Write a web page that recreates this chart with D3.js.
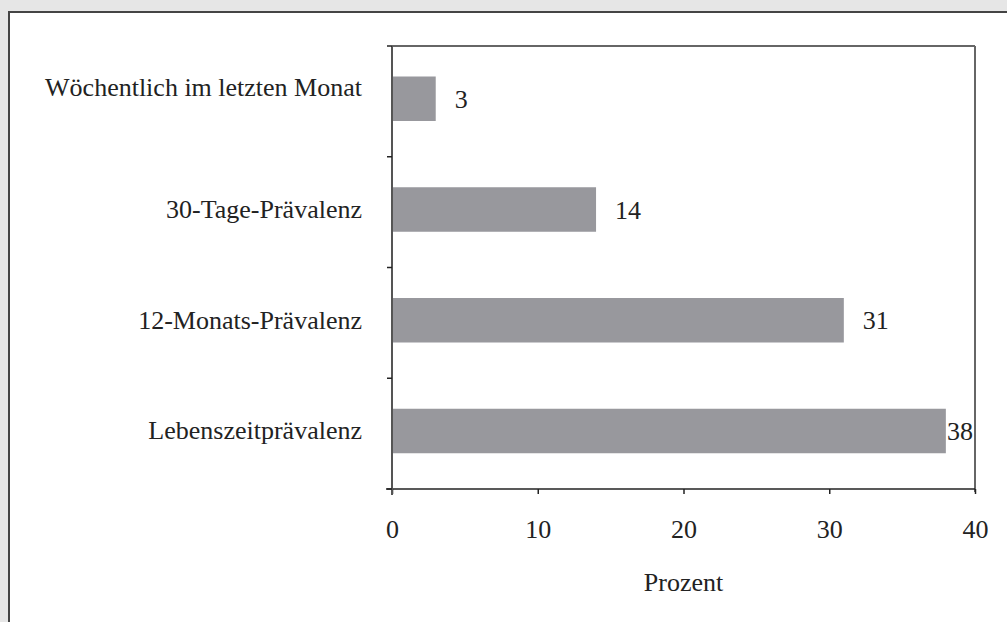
<!DOCTYPE html>
<html><head><meta charset="utf-8">
<script src="https://cdn.jsdelivr.net/npm/d3@7"></script>
<style>html,body{margin:0;padding:0;background:#e6e6e6;}svg{display:block;}</style>
</head><body>
<script>
const categories = ["Wöchentlich im letzten Monat", "30-Tage-Prävalenz", "12-Monats-Prävalenz", "Lebenszeitprävalenz"];
const values = [3, 14, 31, 38];
const xTicks = [0, 10, 20, 30, 40];
const xTitle = "Prozent";

const W = 1007, H = 622;
const svg = d3.select("body").append("svg").attr("width", W).attr("height", H);
svg.append("rect").attr("x",0).attr("y",0).attr("width",W).attr("height",H).attr("fill","#e6e6e6");
svg.append("rect").attr("x",9).attr("y",12).attr("width",W+10).attr("height",H+10)
  .attr("fill","#fff").attr("stroke","#444").attr("stroke-width",2);

const m = {l:392, r:975, t:46, b:489};
const x = d3.scaleLinear().domain([0,40]).range([m.l, m.r]);
const y = d3.scaleBand().domain(categories).range([m.t, m.b]);
const font = "'Liberation Serif','Times New Roman',serif";
const fs = 26;

// bars
const bh = 44.5;
svg.selectAll("rect.bar").data(values).join("rect").attr("class","bar")
  .attr("x", x(0)).attr("y",(d,i)=>y(categories[i]) + 30.5)
  .attr("width", d=>x(d)-x(0)).attr("height", bh).attr("fill","#98989d");

// frame
svg.append("line").attr("x1",m.l).attr("x2",m.r).attr("y1",m.t).attr("y2",m.t).attr("stroke","#333").attr("stroke-width",1.5);
svg.append("line").attr("x1",m.r).attr("x2",m.r).attr("y1",m.t).attr("y2",m.b+3).attr("stroke","#666").attr("stroke-width",2);

// x axis
const xa = svg.append("g").attr("transform",`translate(0,${m.b})`)
  .call(d3.axisBottom(x).tickValues(xTicks).tickSize(5).tickPadding(26).tickFormat(d3.format("d")));
xa.select(".domain").attr("stroke","#222").attr("stroke-width",1.5).attr("d",`M${m.l-6},0H${m.r}`);
xa.selectAll(".tick line").attr("stroke","#222").attr("stroke-width",1.5);
xa.selectAll("text").attr("font-family",font).attr("font-size",fs).attr("fill","#222");

// y axis
const ya = svg.append("g").attr("transform",`translate(${m.l},0)`)
  .call(d3.axisLeft(y).tickSize(0).tickPadding(30));
ya.select(".domain").attr("stroke","#555").attr("stroke-width",2).attr("d",`M0,${m.t}V${m.b+6}`);
ya.selectAll(".tick text").attr("font-family",font).attr("font-size",fs).attr("fill","#222")
  .attr("dy",(d,i)=> i===0 ? "-0.2em" : "0.22em");
// boundary ticks
svg.append("g").selectAll("line").data(categories.slice(1).concat([null])).join("line")
  .attr("x1",m.l-5).attr("x2",m.l)
  .attr("y1",(d,i)=> i<3 ? y(categories[i+1]) : m.b)
  .attr("y2",(d,i)=> i<3 ? y(categories[i+1]) : m.b)
  .attr("stroke","#222").attr("stroke-width",1.5);
svg.append("line").attr("x1",m.l-5).attr("x2",m.l).attr("y1",m.t).attr("y2",m.t).attr("stroke","#222").attr("stroke-width",1.5);

// value labels
svg.selectAll("text.val").data(values).join("text").attr("class","val")
  .attr("font-family",font).attr("font-size",fs).attr("fill","#222")
  .attr("y",(d,i)=>y(categories[i]) + 30.5 + bh/2).attr("dy","0.35em")
  .text(d=>d)
  .attr("x", function(d){ const w=this.getComputedTextLength(); return Math.min(x(d)+19, m.r - w - 2); });

svg.append("text").attr("x",(x(0)+x(40))/2).attr("y",591).attr("text-anchor","middle")
  .attr("font-family",font).attr("font-size",fs).attr("fill","#222").text(xTitle);
</script>
</body></html>
